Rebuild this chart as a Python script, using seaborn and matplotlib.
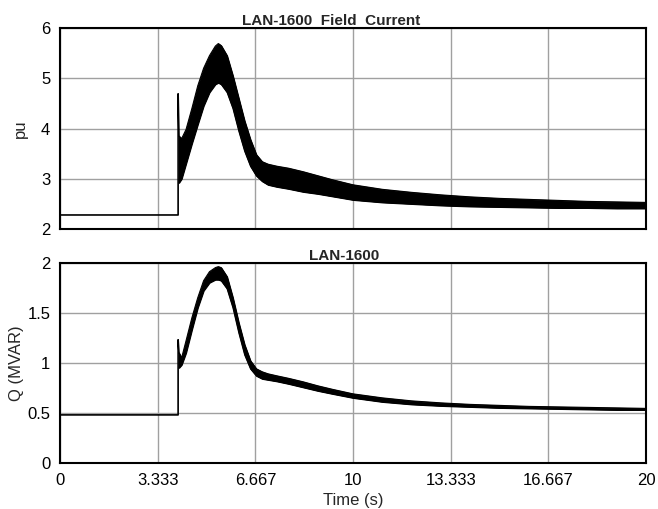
import matplotlib
matplotlib.use("Agg")
import matplotlib.pyplot as plt
import seaborn as sns
import numpy as np
import pandas as pd

# time axis
x_ticks = [0, 3.333, 6.667, 10, 13.333, 16.667, 20]
x_ticklabels = ["0", "3.333", "6.667", "10", "13.333", "16.667", "20"]

# pre-fault level and the step / spike at the switching instant
step_t = [0, 4.03, 4.03, 4.06]
field_step = [2.28, 2.28, 4.69, 3.85]
q_step = [0.48, 0.48, 1.23, 1.10]

# envelope of the oscillating band after the step
band_t = [4.06, 4.15, 4.3, 4.5, 4.7, 4.9, 5.1, 5.3, 5.4, 5.5, 5.7, 5.9, 6.1, 6.3,
          6.5, 6.7, 6.9, 7.1, 7.4, 7.8, 8.3, 8.8, 9.3, 10, 11, 12, 13, 14, 15,
          16, 17, 18, 19, 20]
field_upper = [3.85, 3.8, 3.98, 4.4, 4.85, 5.2, 5.45, 5.64, 5.69, 5.65, 5.45, 5.05,
               4.6, 4.15, 3.78, 3.48, 3.34, 3.29, 3.25, 3.21, 3.14, 3.06, 2.98, 2.88,
               2.79, 2.73, 2.68, 2.64, 2.61, 2.59, 2.57, 2.55, 2.54, 2.53]
field_lower = [2.92, 3.0, 3.3, 3.7, 4.08, 4.45, 4.72, 4.88, 4.91, 4.88, 4.72, 4.4,
               3.95, 3.55, 3.25, 3.06, 2.95, 2.88, 2.84, 2.80, 2.74, 2.70, 2.65, 2.58,
               2.53, 2.50, 2.47, 2.45, 2.44, 2.43, 2.42, 2.42, 2.41, 2.41]
q_upper = [1.10, 1.05, 1.22, 1.45, 1.65, 1.82, 1.91, 1.95, 1.96, 1.95, 1.86, 1.65,
           1.40, 1.18, 1.02, 0.94, 0.91, 0.89, 0.87, 0.845, 0.81, 0.77, 0.735, 0.69,
           0.65, 0.62, 0.60, 0.585, 0.575, 0.565, 0.56, 0.555, 0.55, 0.545]
q_lower = [0.95, 0.98, 1.10, 1.33, 1.55, 1.72, 1.80, 1.83, 1.83, 1.82, 1.74, 1.55,
           1.30, 1.08, 0.94, 0.87, 0.84, 0.83, 0.815, 0.79, 0.755, 0.72, 0.69, 0.65,
           0.61, 0.585, 0.57, 0.56, 0.55, 0.545, 0.54, 0.535, 0.53, 0.53]

sns.set_style("white")
plt.rcParams['font.family'] = ['Liberation Sans', 'DejaVu Sans']

fig = plt.figure(figsize=(6.58, 5.09), dpi=100)
ax1 = fig.add_axes([0.0912, 0.550, 0.8908, 0.395])
ax2 = fig.add_axes([0.0912, 0.0904, 0.8908, 0.3936], sharex=ax1)

# title centres sit a little left of the axes centre in the original
panels = [
    (ax1, field_step, field_upper, field_lower, (2, 6), [2, 3, 4, 5, 6], "pu",
     "LAN-1600  Field  Current", 0.4625, -0.054),
    (ax2, q_step, q_upper, q_lower, (0, 2), [0, 0.5, 1, 1.5, 2], "Q (MVAR)",
     "LAN-1600", 0.485, -0.062),
]

for ax, step_y, upper, lower, ylim, yticks, ylabel, title, tx, lx in panels:
    step_df = pd.DataFrame({"t": step_t, "v": step_y})
    sns.lineplot(data=step_df, x="t", y="v", ax=ax, color="black", lw=1.2,
                 sort=False, estimator=None)
    band = pd.DataFrame({"t": band_t, "hi": upper, "lo": lower})
    ax.fill_between(band["t"], band["lo"], band["hi"], color="black", lw=0.8,
                    edgecolor="black")
    sns.lineplot(data=band, x="t", y="hi", ax=ax, color="black", lw=0.8,
                 estimator=None)
    sns.lineplot(data=band, x="t", y="lo", ax=ax, color="black", lw=0.8,
                 estimator=None)

    ax.set_xlim(0, 20)
    ax.set_ylim(*ylim)
    ax.set_yticks(yticks)
    ax.set_xticks(x_ticks)
    ax.grid(True, color="#a0a0a0", lw=1.0)
    ax.set_axisbelow(True)
    for s in ax.spines.values():
        s.set_color("black")
        s.set_linewidth(1.5)
    ax.tick_params(axis="both", length=0, labelsize=12, pad=7, colors="black")
    ax.set_ylabel(ylabel, fontsize=12)
    ax.yaxis.set_label_coords(lx, 0.5)
    ax.set_title(title, fontsize=11, fontweight="bold", pad=2, x=tx)
    ax.set_xlabel("")

ax1.tick_params(axis="x", labelbottom=False)
ax2.set_yticklabels(["0", "0.5", "1", "1.5", "2"])
ax2.set_xticklabels(x_ticklabels)
ax2.set_xlabel("Time (s)", fontsize=12, labelpad=4)

fig.savefig("out.png", dpi=100)
